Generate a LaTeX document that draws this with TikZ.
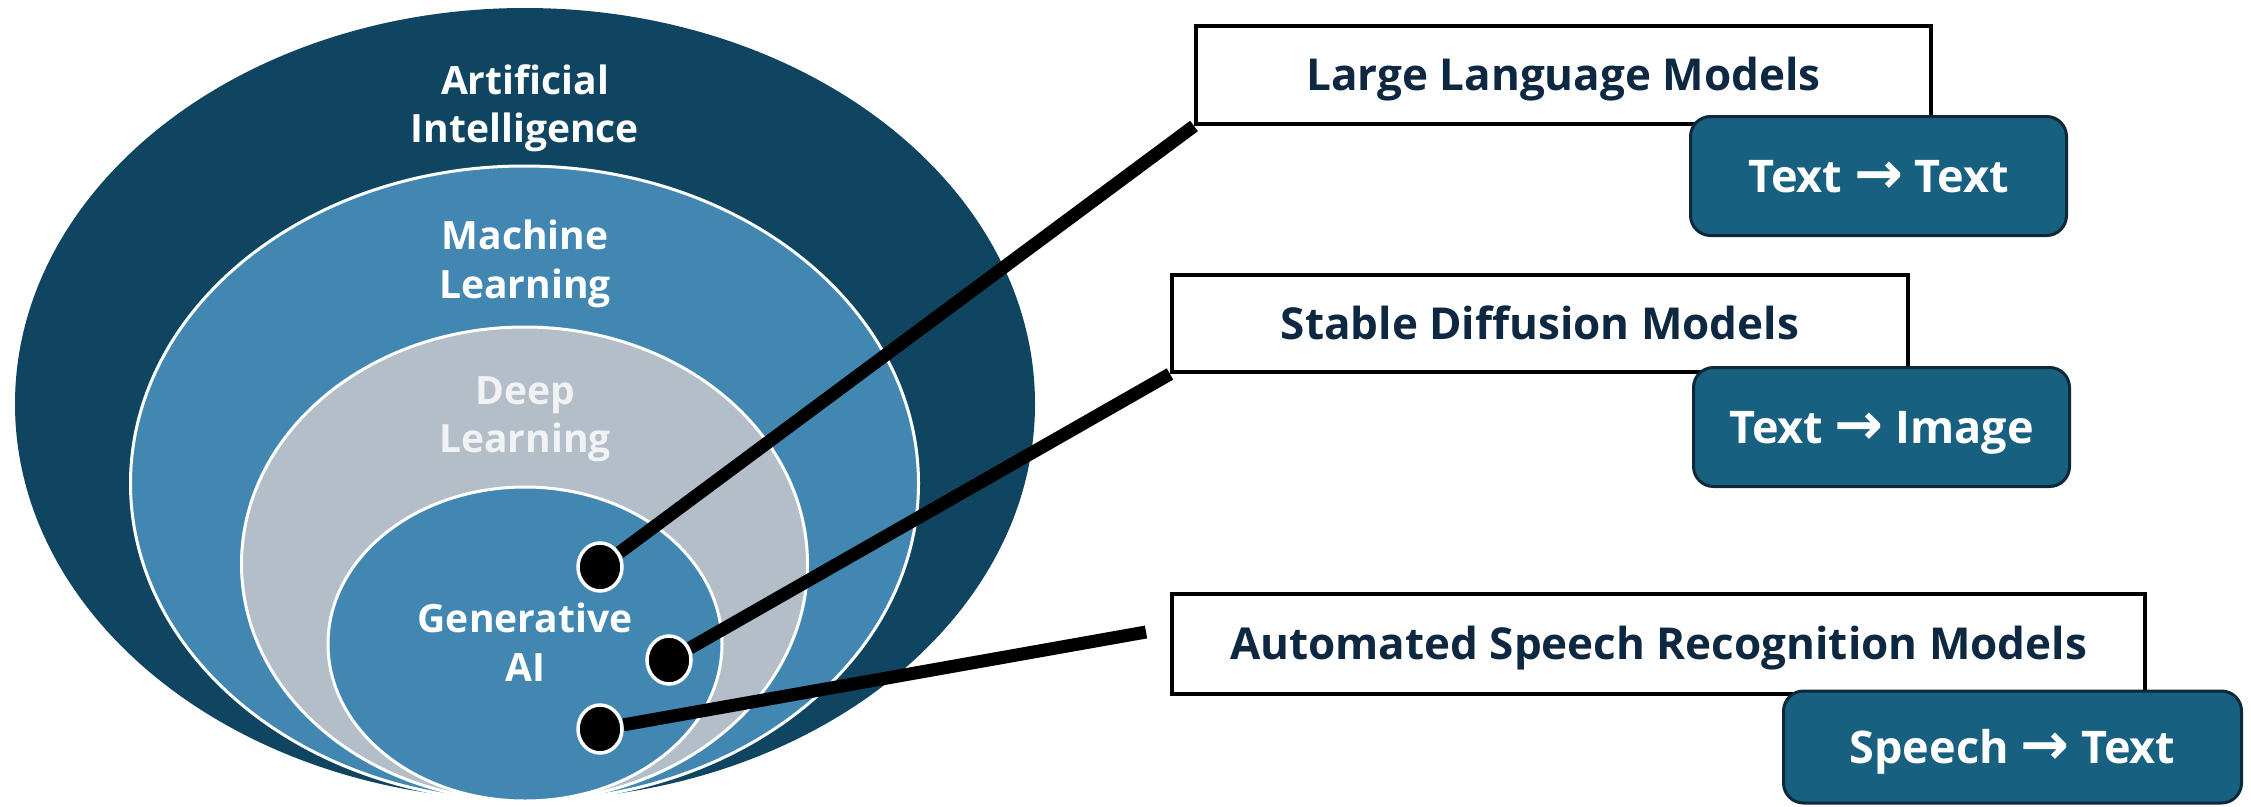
\documentclass[tikz,border=0pt]{standalone}
\usepackage{graphicx}
\usepackage{fontspec}
\setmainfont{Open Sans}
\newfontfamily\arrowfont{DejaVu Sans}
\usetikzlibrary{shapes.geometric}
\definecolor{aidark}{RGB}{15,69,96}
\definecolor{mlblue}{RGB}{66,135,178}
\definecolor{dlgray}{RGB}{180,190,200}
\definecolor{dltext}{RGB}{240,242,244}
\definecolor{tagfill}{RGB}{24,96,128}
\definecolor{tagborder}{RGB}{12,40,58}
\definecolor{navytext}{RGB}{14,40,65}
\pgfdeclarelayer{bg}
\pgfdeclarelayer{lines}
\pgfsetlayers{bg,lines,main}
\newcommand{\arr}{{\arrowfont\bfseries\raisebox{-1pt}{\scalebox{1.3}{→}}}}
\begin{document}
\begin{tikzpicture}[x=1pt,y=-1pt,
  ringline/.style={draw=white,line width=3pt},
  elltext/.style={anchor=base,inner sep=0pt,text=white,font=\fontsize{39}{46}\selectfont\bfseries},
  titlebox/.style={draw=black,fill=white,line width=4pt,inner sep=0pt,text=navytext,
    font=\fontsize{44}{50}\selectfont\bfseries,text height=31pt,text depth=0pt},
  tagbox/.style={draw=tagborder,fill=tagfill,line width=3pt,rounded corners=20pt,inner sep=0pt,text=white,
    font=\fontsize{45}{52}\selectfont\bfseries,text height=32pt,text depth=0pt},
  dot/.style={ellipse,fill=black,draw=white,line width=3.5pt,minimum width=44pt,minimum height=48pt,inner sep=0pt},
  conn/.style={draw=black,line width=13pt}]
\useasboundingbox (0,0) rectangle (2251,806);
\begin{pgfonlayer}{bg}
  \fill[aidark] (525,404) ellipse [x radius=510, y radius=396];
  \filldraw[fill=mlblue,ringline] (524.5,483.5) ellipse [x radius=394, y radius=317.5];
  \filldraw[fill=dlgray,ringline] (524.5,564) ellipse [x radius=283, y radius=237];
  \filldraw[fill=mlblue,ringline] (525,644) ellipse [x radius=197, y radius=157];
\end{pgfonlayer}
\node[elltext] (ai1) at (525,94) {Artificial};
\node[elltext] (ai2) at (525,142) {Intelligence};
\node[elltext] (ml1) at (525,249) {Machine};
\node[elltext] (ml2) at (525,298) {Learning};
\node[elltext,text=dltext] (dl1) at (525,404) {Deep};
\node[elltext,text=dltext] (dl2) at (525,452) {Learning};
\node[elltext] (ga1) at (525,632) {Generative};
\node[elltext] (ga2) at (525,681) {AI};
\node[dot] (dot1) at (600,567) {};
\node[dot] (dot2) at (669,660) {};
\node[dot] (dot3) at (600,729) {};
\node[titlebox,minimum width=735pt,minimum height=98pt] (llm) at (1563.5,75) {Large Language Models};
\node[tagbox,minimum width=376pt,minimum height=119pt] (llmtag) at (1878.5,176) {Text \arr{} Text};
\node[titlebox,minimum width=736pt,minimum height=97pt] (sd) at (1540,323.5) {Stable Diffusion Models};
\node[tagbox,minimum width=376pt,minimum height=119pt] (sdtag) at (1881.5,427) {Text \arr{} Image};
\node[titlebox,minimum width=973pt,minimum height=100pt] (asr) at (1658.5,644) {Automated Speech Recognition Models};
\node[tagbox,minimum width=458pt,minimum height=112pt] (asrtag) at (2012.5,747) {Speech \arr{} Text};
\coordinate (asrend) at (1146,632);
\begin{pgfonlayer}{lines}
  \draw[conn] (dot1) -- (llm.south west);
  \draw[conn] (dot2) -- (sd.south west);
  \draw[conn] (dot3) -- (asrend);
\end{pgfonlayer}
\end{tikzpicture}
\end{document}
